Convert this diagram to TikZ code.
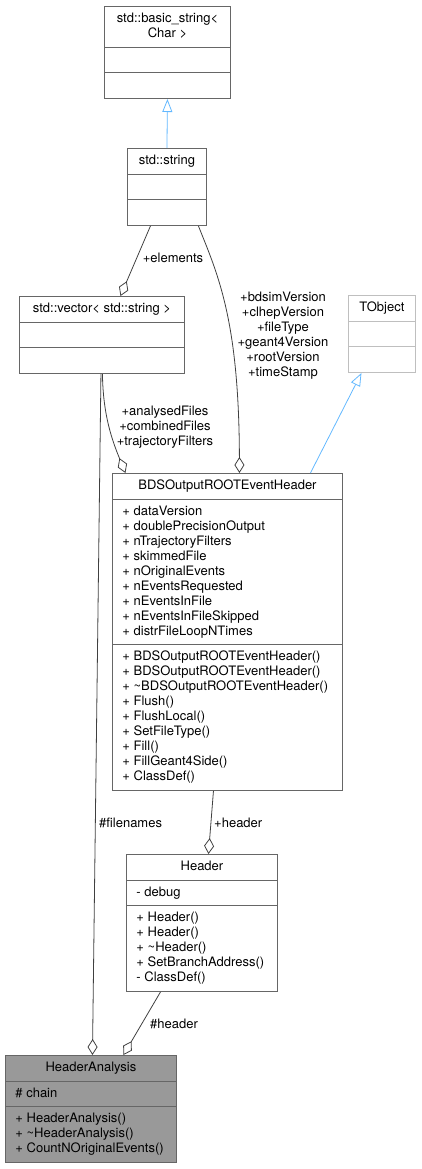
\documentclass[tikz,border=0pt]{standalone}
\usepackage{fontspec}
\setmainfont{TeX Gyre Heros}
\usepackage{tikz}
\usetikzlibrary{shapes.multipart,arrows.meta}
\definecolor{boxgray}{HTML}{666666}
\definecolor{objgray}{HTML}{BFBFBF}
\definecolor{edgegray}{HTML}{404040}
\definecolor{inhblue}{HTML}{63B8FF}
\definecolor{hagray}{HTML}{999999}

\begin{document}
\begin{tikzpicture}[x=1pt, y=-1pt, font=\fontsize{13}{15}\selectfont,
	cls/.style = {draw=boxgray, fill=white, line width=0.9pt, rectangle split, rectangle split parts=3,
		rectangle split part align={center,left,left}, align=left, anchor=north west,
		inner xsep=10pt, inner ysep=4.9pt},
	member/.style = {draw=edgegray, line width=0.8pt, -{Diamond[open,length=16pt,width=10pt]}},
	inherit/.style = {draw=inhblue, line width=0.8pt, -{Triangle[open,length=13pt,width=10pt]}},
	lbl/.style = {inner sep=0pt, align=center}]
\useasboundingbox (0,0) rectangle (421,1169);
% classes
\node[cls, align=center, minimum width=126pt] (basic) at (104,6)
	{\strut std::basic\_string<\\\strut Char >\nodepart{two}\strut\nodepart{three}\strut};
\node[cls, minimum width=79pt] (string) at (127,148)
	{\strut std::string\nodepart{two}\strut\nodepart{three}\strut};
\node[cls, minimum width=165pt] (vec) at (19,296)
	{\strut std::vector< std::string >\nodepart{two}\strut\nodepart{three}\strut};
\node[cls, draw=objgray, minimum width=67pt] (tobj) at (348,295)
	{\strut TObject\nodepart{two}\strut\nodepart{three}\strut};
\node[cls, minimum width=230pt] (bds) at (112,473)
	{\strut BDSOutputROOTEventHeader
	\nodepart{two}
	\strut + dataVersion\\
	\strut + doublePrecisionOutput\\
	\strut + nTrajectoryFilters\\
	\strut + skimmedFile\\
	\strut + nOriginalEvents\\
	\strut + nEventsRequested\\
	\strut + nEventsInFile\\
	\strut + nEventsInFileSkipped\\
	\strut + distrFileLoopNTimes
	\nodepart{three}
	\strut + BDSOutputROOTEventHeader()\\
	\strut + BDSOutputROOTEventHeader()\\
	\strut + \textasciitilde BDSOutputROOTEventHeader()\\
	\strut + Flush()\\
	\strut + FlushLocal()\\
	\strut + SetFileType()\\
	\strut + Fill()\\
	\strut + FillGeant4Side()\\
	\strut + ClassDef()};
\node[cls, minimum width=151pt] (header) at (126,854)
	{\strut Header
	\nodepart{two}
	\strut - debug
	\nodepart{three}
	\strut + Header()\\
	\strut + Header()\\
	\strut + \textasciitilde Header()\\
	\strut + SetBranchAddress()\\
	\strut - ClassDef()};
\node[cls, fill=hagray, minimum width=171pt] (ana) at (5,1055)
	{\strut HeaderAnalysis
	\nodepart{two}
	\strut \# chain
	\nodepart{three}
	\strut + HeaderAnalysis()\\
	\strut + \textasciitilde HeaderAnalysis()\\
	\strut + CountNOriginalEvents()};
% labels
\node[lbl] (elem) at (173,258) {+elements};
\node[lbl] (vers) at (283,335.5) {\strut+bdsimVersion\\\strut+clhepVersion\\\strut+fileType\\
	\strut+geant4Version\\\strut+rootVersion\\\strut+timeStamp};
\node[lbl] (files) at (165,427) {\strut+analysedFiles\\\strut+combinedFiles\\\strut+trajectoryFilters};
\node[lbl, anchor=west] (fnames) at (99,823) {\#filenames};
\node[lbl, anchor=west] (hdr) at (214,823) {+header};
\node[lbl, anchor=west] (phdr) at (150,1024) {\#header};
% connectors
\draw[inherit] (string.north) -- (basic.south);
\draw[inherit] ([xshift=83pt]bds.north) -- ([xshift=-20.5pt]tobj.south);
\draw[member] ([xshift=-16.5pt]string.south) -- ([xshift=18.5pt]vec.north);
\draw[member] ([xshift=31.5pt]string.south) .. controls (218,275) and (239,320) .. ([xshift=12pt]bds.north);
\draw[member] ([xshift=0.5pt]vec.south) .. controls (103,415) and (112,440) .. ([xshift=-102pt]bds.north);
\draw[member] ([xshift=-1pt]vec.south) -- ([xshift=1.5pt]ana.north);
\draw[member] ([xshift=-14pt]bds.south) -- ([xshift=6.5pt]header.north);
\draw[member] ([xshift=-41.5pt]header.south) -- ([xshift=32.5pt]ana.north);
\end{tikzpicture}
\end{document}
